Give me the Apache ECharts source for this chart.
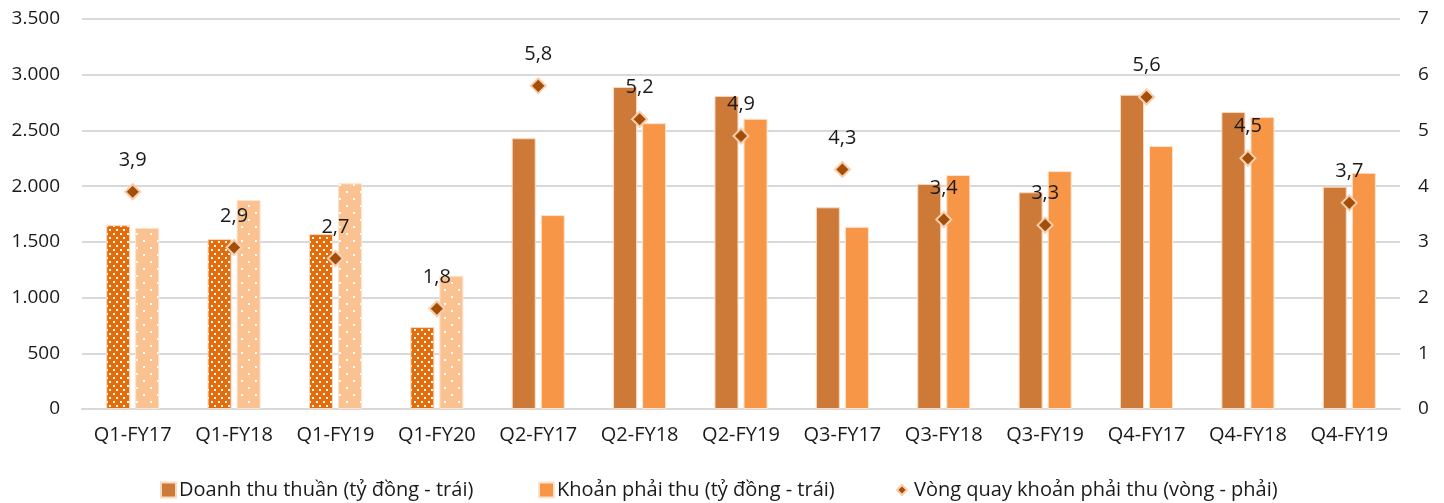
<!DOCTYPE html>
<html>
<head>
<meta charset="utf-8">
<script src="https://cdn.jsdelivr.net/npm/echarts@6/dist/echarts.min.js"></script>
<style>
  html, body { margin: 0; padding: 0; background: #ffffff; }
  #chart { width: 1444px; height: 503px; }
</style>
</head>
<body>
<div id="chart"></div>
<script>
// Quarterly categories
const categories = ['Q1-FY17', 'Q1-FY18', 'Q1-FY19', 'Q1-FY20', 'Q2-FY17', 'Q2-FY18', 'Q2-FY19',
  'Q3-FY17', 'Q3-FY18', 'Q3-FY19', 'Q4-FY17', 'Q4-FY18', 'Q4-FY19'];
// Net revenue (billion VND, left axis)
const revenue = [1650, 1525, 1570, 735, 2430, 2890, 2810, 1810, 2020, 1945, 2820, 2665, 1995];
// Receivables (billion VND, left axis)
const receivables = [1625, 1875, 2025, 1195, 1740, 2565, 2605, 1635, 2100, 2135, 2360, 2620, 2120];
// Receivable turnover (times, right axis)
const turnover = [3.9, 2.9, 2.7, 1.8, 5.8, 5.2, 4.9, 4.3, 3.4, 3.3, 5.6, 4.5, 3.7];
// Left / right axis ticks
const leftTicks = [0, 500, 1000, 1500, 2000, 2500, 3000, 3500];
const rightTicks = [0, 1, 2, 3, 4, 5, 6, 7];
// Categories drawn with a dotted fill (first quarter of each year)
const dottedCount = 4;

const FONT = 'Open Sans';
const TEXT = '#1a1a1a';

function dotPattern(bg, w, h, dots, r) {
  const c = document.createElement('canvas');
  c.width = w; c.height = h;
  const ctx = c.getContext('2d');
  ctx.fillStyle = bg;
  ctx.fillRect(0, 0, w, h);
  ctx.fillStyle = '#ffffff';
  dots.forEach(d => ctx.fillRect(d[0], d[1], r, r));
  return c;
}

const darkSolid = '#cd7a39';
const lightSolid = '#f79646';
const darkDots = { image: dotPattern('#e46c0a', 7, 8, [[1, 1], [4, 5]], 2), repeat: 'repeat' };
const lightDots = { image: dotPattern('#fac291', 14, 14, [[3, 2], [10, 9]], 2), repeat: 'repeat' };

function barData(values, dotted) {
  return values.map((v, i) => i < dottedCount
    ? { value: v, itemStyle: { color: dotted } }
    : v);
}

const fmt = v => String(v).replace('.', ',');
const fmtThousands = v => String(v).replace(/\B(?=(\d{3})+(?!\d))/g, '.');

const seriesNames = [
  'Doanh thu thuần (tỷ đồng - trái)',
  'Khoản phải thu (tỷ đồng - trái)',
  'Vòng quay khoản phải thu (vòng - phải)'
];

function legendItem(name, icon, left, size, pad) {
  return {
    data: [{ name: name, icon: icon }],
    left: left, top: 480, padding: 0,
    itemWidth: size, itemHeight: size,
    textStyle: { fontFamily: FONT, fontSize: 20, color: TEXT, padding: [0, 0, 0, pad] }
  };
}

const chart = echarts.init(document.getElementById('chart'), null, { renderer: 'canvas' });

chart.setOption({
  animation: false,
  textStyle: { fontFamily: FONT },
  grid: { left: 82, right: 44, top: 19, bottom: 94 },
  legend: [
    legendItem(seriesNames[0], 'rect', 160, 15, -2),
    legendItem(seriesNames[1], 'rect', 538, 15, -2),
    legendItem(seriesNames[2], 'diamond', 896, 10, 2)
  ],
  xAxis: {
    type: 'category',
    data: categories,
    axisLine: { lineStyle: { color: '#d9d9d9', width: 2 } },
    axisTick: { show: false },
    axisLabel: { fontFamily: FONT, fontSize: 20, color: TEXT, margin: 16 }
  },
  yAxis: [
    {
      type: 'value', min: leftTicks[0], max: leftTicks[leftTicks.length - 1], interval: 500,
      axisLine: { show: false }, axisTick: { show: false },
      splitLine: { lineStyle: { color: '#d9d9d9', width: 2 } },
      axisLabel: { fontFamily: FONT, fontSize: 19, color: TEXT, margin: 22, formatter: fmtThousands }
    },
    {
      type: 'value', min: rightTicks[0], max: rightTicks[rightTicks.length - 1], interval: 1,
      axisLine: { show: false }, axisTick: { show: false },
      splitLine: { show: false },
      axisLabel: { fontFamily: FONT, fontSize: 19, color: TEXT, margin: 18 }
    }
  ],
  series: [
    {
      name: seriesNames[0],
      type: 'bar',
      data: barData(revenue, darkDots),
      barWidth: 24, barGap: '21%',
      itemStyle: { color: darkSolid, borderColor: '#fbd9bf', borderWidth: 1 }
    },
    {
      name: seriesNames[1],
      type: 'bar',
      data: barData(receivables, lightDots),
      barWidth: 24, barGap: '21%',
      itemStyle: { color: lightSolid, borderColor: '#fde3cf', borderWidth: 1 }
    },
    {
      name: seriesNames[2],
      type: 'line',
      yAxisIndex: 1,
      data: turnover,
      symbol: 'diamond',
      symbolSize: 15,
      lineStyle: { opacity: 0 },
      itemStyle: { color: '#a24f0b', borderColor: '#fbcdaa', borderWidth: 2 },
      label: {
        show: true, position: 'top', distance: 13,
        fontFamily: FONT, fontSize: 20, color: TEXT,
        formatter: p => fmt(p.value)
      },
      z: 5
    }
  ]
});
</script>
</body>
</html>
